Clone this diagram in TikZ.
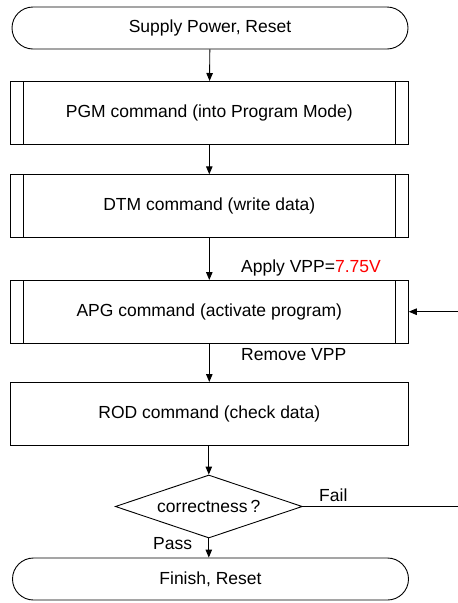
\documentclass[tikz,border=0pt]{standalone}
\usepackage{fontspec}
\setmainfont{Liberation Sans}
\usetikzlibrary{arrows.meta,shapes.geometric}
\begin{document}
\begin{tikzpicture}[x=1pt,y=-1pt,
  every node/.style={font=\fontsize{17.5}{21}\selectfont, inner sep=0pt},
  line/.style={draw=black, line width=0.9pt},
  arr/.style={line, -{Triangle[length=8pt,width=6.5pt]}},
  terminal/.style={line, rectangle, rounded corners=21pt, minimum width=396pt, minimum height=42pt},
  procbox/.style={line, rectangle, minimum width=398pt, minimum height=62.5pt},
  subproc/.style={procbox, path picture={
     \draw[line width=0.9pt] ([xshift=13pt]path picture bounding box.north west) -- ([xshift=13pt]path picture bounding box.south west);
     \draw[line width=0.9pt] ([xshift=-13pt]path picture bounding box.north east) -- ([xshift=-13pt]path picture bounding box.south east);}},
  decision/.style={line, diamond, aspect=2.97, minimum width=187pt, minimum height=63pt},
  lbl/.style={anchor=west}
]
\useasboundingbox (0,0) rectangle (458,603);
\node[terminal] (start) at (210,28) {Supply Power, Reset};
\node[subproc] (pgm) at (209.3,112.7) {PGM command (into Program Mode)};
\node[subproc] (dtm) at (209.3,206) {DTM command (write data)};
\node[subproc] (apg) at (209.3,311.7) {APG command (activate program)};
\node[procbox] (rod) at (209.3,413.7) {ROD command (check data)};
\node[decision] (dia) at (208.8,506.5) {correctness\hspace{3pt}?};
\node[terminal] (fin) at (210.5,579) {Finish, Reset};

\coordinate (failend) at (458,506.5);
\coordinate (loopin) at (458,311.7);

\draw[arr] (start) -- (pgm);
\draw[arr] (pgm) -- (dtm);
\draw[arr] (dtm) -- (apg);
\draw[arr] (apg) -- (rod);
\draw[arr] (rod.south -| dia.north) -- (dia.north);
\draw[arr] (dia.south) -- (dia.south |- fin.north);
\draw[line] (dia.east) -- (failend);
\draw[arr] (loopin) -- (apg.east);

\node[lbl] (apply) at (241,268) {Apply VPP=\textcolor[HTML]{FF0000}{7.75V}};
\node[lbl] (remove) at (241,355) {Remove VPP};
\node[lbl] (fail) at (319,495) {Fail};
\node[lbl] (pass) at (153,544) {Pass};
\end{tikzpicture}
\end{document}
